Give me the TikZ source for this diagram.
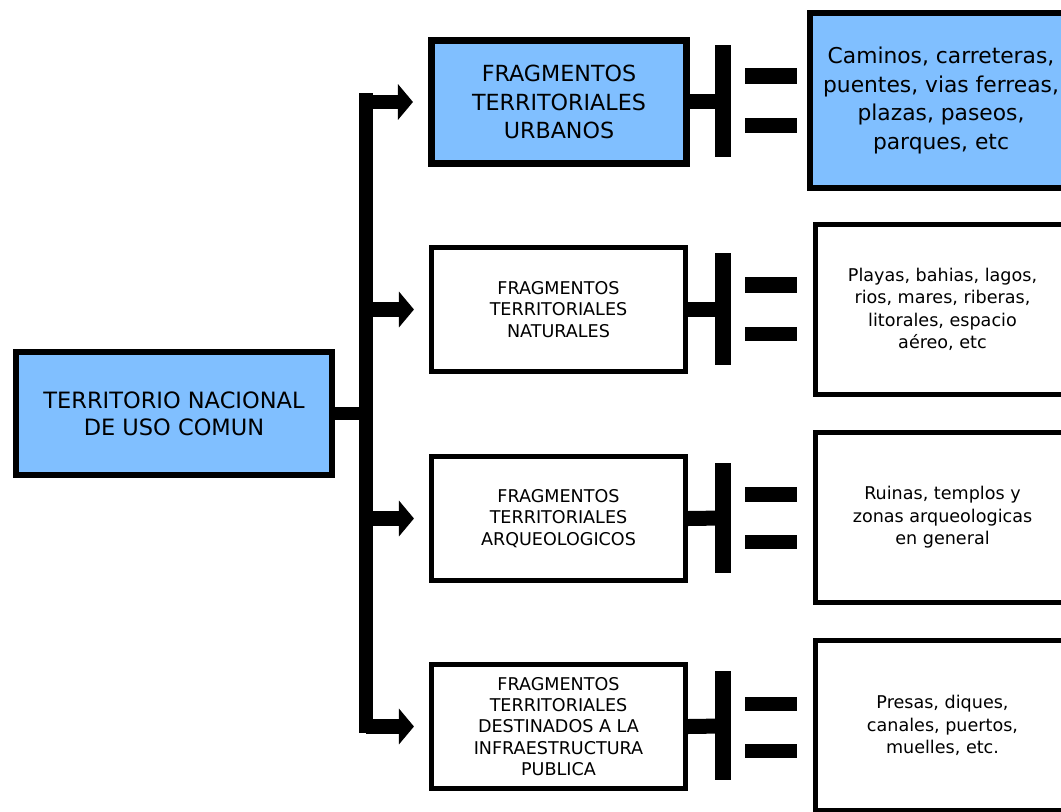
\documentclass[tikz,border=0pt]{standalone}
\usepackage{fontspec}
\setmainfont{DejaVu Sans}
\usetikzlibrary{arrows.meta}
\definecolor{celeste}{RGB}{128,191,255}

\begin{document}
\begin{tikzpicture}[x=0.025cm,y=-0.025cm,
    caja/.style={draw, line width=0.125cm, inner sep=0pt, align=center,
      minimum width=6.35cm, minimum height=3.1cm,
      font=\fontsize{12.5}{15.2}\selectfont},
    cajaazul/.style={caja, fill=celeste, line width=0.15cm},
    detalle/.style={caja, minimum height=4.25cm,
      font=\fontsize{12.5}{16}\selectfont},
    barra/.style={line width=0.36cm},
    flecha/.style={barra, -{Triangle[length=0.375cm,width=0.875cm]},
      shorten >=0.375cm}]
  \clip (0,0) rectangle (1061,811);
  \fill[white] (0,0) rectangle (1061,811);

  % caja principal
  \node[cajaazul, minimum width=7.9cm, minimum height=3.075cm,
    font=\fontsize{16}{19}\selectfont] (tnuc) at (174,413.5)
    {TERRITORIO NACIONAL\\DE USO COMUN};

  % fragmentos
  \node[cajaazul, line width=0.175cm, minimum width=6.375cm,
    minimum height=3.075cm, font=\fontsize{15.8}{20}\selectfont] (urb) at (559,102)
    {FRAGMENTOS\\TERRITORIALES\\URBANOS};
  \node[caja] (nat) at (558.5,309.5) {FRAGMENTOS\\TERRITORIALES\\NATURALES};
  \node[caja] (arq) at (558.5,518.5) {FRAGMENTOS\\TERRITORIALES\\ARQUEOLOGICOS};
  \node[caja] (inf) at (558.5,726.5)
    {FRAGMENTOS\\TERRITORIALES\\DESTINADOS A LA\\INFRAESTRUCTURA\\PUBLICA};

  % ejemplos
  \node[detalle, fill=celeste, line width=0.15cm, minimum width=6.55cm,
    minimum height=4.375cm, font=\fontsize{15.5}{20.5}\selectfont] (eurb) at (941,100.5)
    {Caminos, carreteras,\\puentes, vias ferreas,\\plazas, paseos,\\parques, etc};
  \node[detalle] (enat) at (942.5,309.5)
    {Playas, bahias, lagos,\\rios, mares, riberas,\\litorales, espacio\\aéreo, etc};
  \node[detalle] (earq) at (942.5,517.5)
    {Ruinas, templos y\\zonas arqueologicas\\en general};
  \node[detalle] (einf) at (942.5,725.5)
    {Presas, diques,\\canales, puertos,\\muelles, etc.};

  % tronco y flechas
  \coordinate (ta) at (366,93);
  \coordinate (tb) at (366,733);
  \draw[barra, line width=0.325cm] (tnuc.east) -- (tnuc.east -| ta);
  \draw[barra, line width=0.35cm] (ta) -- (tb);
  \draw[flecha] (urb.west -| ta) -- (urb.west);
  \draw[flecha] (nat.west -| ta) -- (nat.west);
  \draw[flecha] (arq.west -| ta) -- (arq.west);
  \draw[flecha] (inf.west -| tb) -- (inf.west);

  % llaves
  \coordinate (h1) at (723,101);
  \coordinate (h2) at (723,309.5);
  \coordinate (h3) at (723,518);
  \coordinate (h4) at (723,726);
  \draw[barra, line width=0.375cm] (urb.east |- h1) -- (h1);
  \draw[barra, line width=0.375cm] (nat.east) -- (h2);
  \draw[barra, line width=0.375cm] (arq.east) -- (h3);
  \draw[barra, line width=0.375cm] (inf.east) -- (h4);
  \fill (715,45) rectangle (731,157);
  \fill (745,68) rectangle (797,84);
  \fill (745,118) rectangle (797,133);
  \fill (715,253) rectangle (731,365);
  \fill (745,277) rectangle (797,293);
  \fill (745,327) rectangle (797,341);
  \fill (715,463) rectangle (731,573);
  \fill (745,487) rectangle (797,502);
  \fill (745,535) rectangle (797,549);
  \fill (715,671) rectangle (731,780);
  \fill (745,697) rectangle (797,711);
  \fill (745,744) rectangle (797,758);
\end{tikzpicture}
\end{document}
